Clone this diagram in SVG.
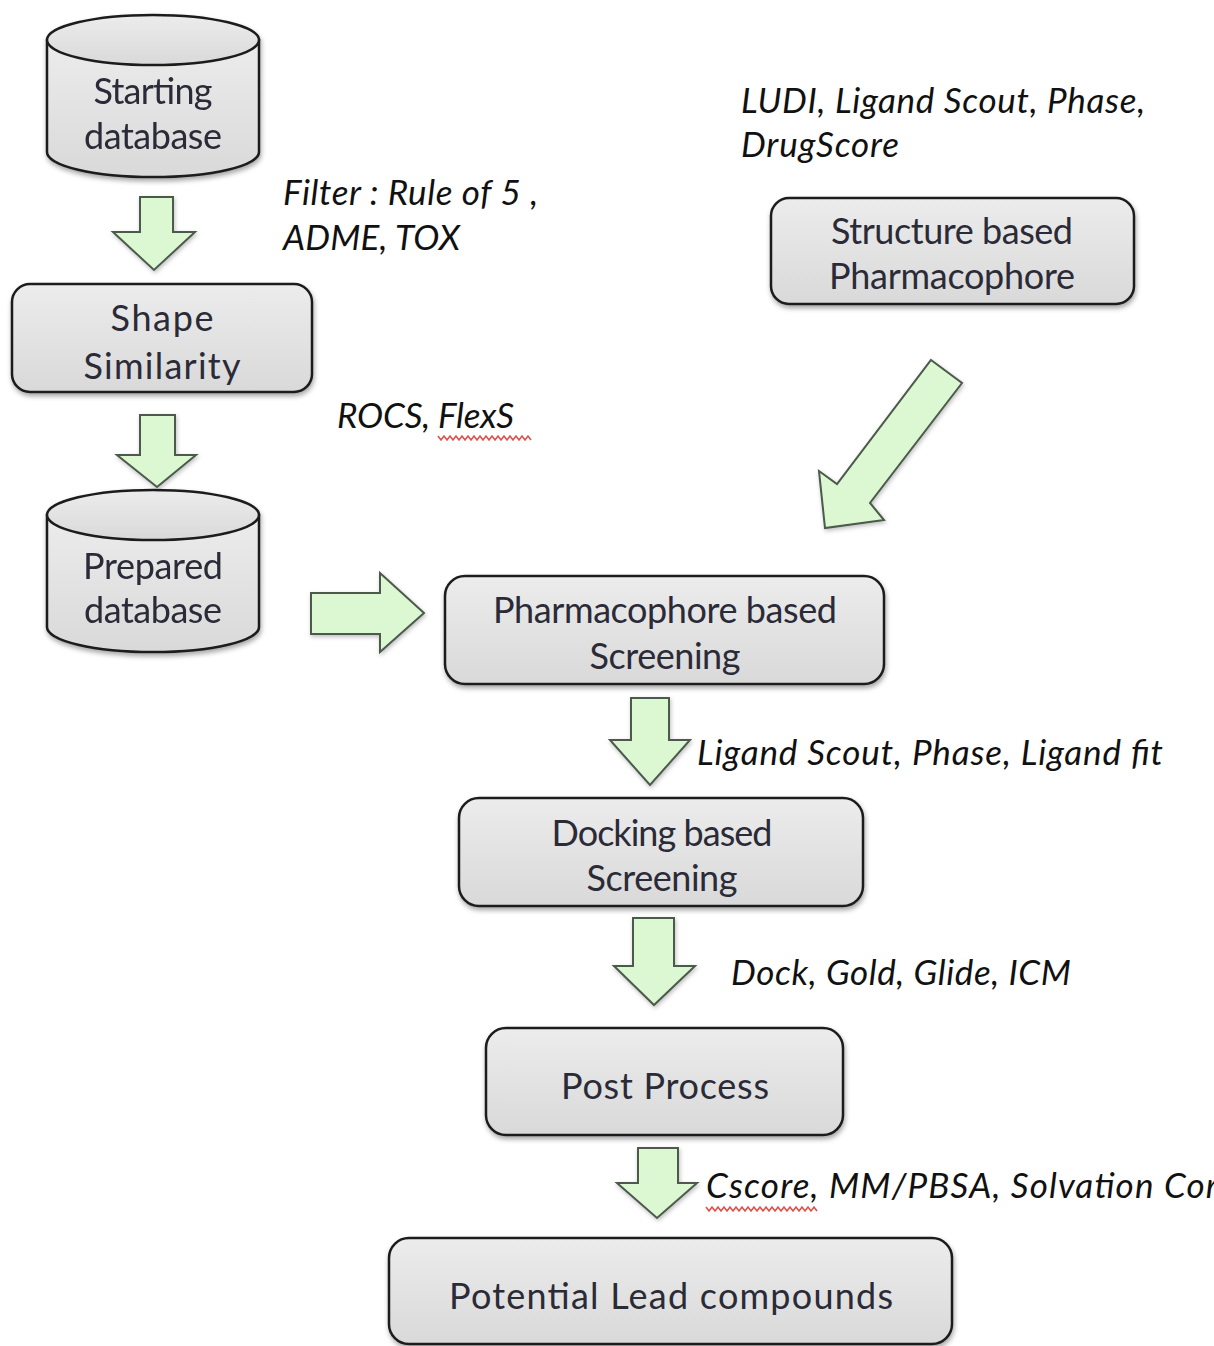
<svg xmlns="http://www.w3.org/2000/svg" width="1214" height="1346" viewBox="0 0 1214 1346">
<defs>
<linearGradient id="gbox" x1="0" y1="0" x2="0" y2="1">
<stop offset="0" stop-color="#ececec"/>
<stop offset="1" stop-color="#d9d9d9"/>
</linearGradient>
<filter id="sh" x="-10%" y="-10%" width="125%" height="135%">
<feDropShadow dx="1" dy="3" stdDeviation="2.5" flood-color="#000" flood-opacity="0.35"/>
</filter>
<filter id="sh2" x="-20%" y="-20%" width="150%" height="150%">
<feDropShadow dx="1" dy="2" stdDeviation="2" flood-color="#000" flood-opacity="0.25"/>
</filter>
</defs>
<style>
.box{fill:url(#gbox);stroke:#1c1c1c;stroke-width:2.5;filter:url(#sh)}
.cyl{fill:url(#gbox);stroke:#1c1c1c;stroke-width:2.5}
.arr{fill:#dcf8d3;stroke:#4b5a4b;stroke-width:2;stroke-linejoin:miter;filter:url(#sh2)}
.nt{font-family:Lato,"Open Sans","Liberation Sans",sans-serif;font-size:36px;fill:#2b2b38;text-anchor:middle}
.lb{font-family:Lato,"Open Sans","Liberation Sans",sans-serif;font-style:italic;font-size:35px;fill:#111}
.wavy{fill:none;stroke:#e0504a;stroke-width:1.6}
</style>
<rect width="1214" height="1346" fill="#ffffff"/>

<g id="starting-database" filter="url(#sh)">
<path class="cyl" d="M47,40 L47,152 A106,25 0 0 0 259,152 L259,40 Z"/>
<ellipse class="cyl" cx="153" cy="40" rx="106" ry="25"/>
<text class="nt" x="153" y="104" textLength="119">Starting</text>
<text class="nt" x="153" y="149" textLength="138">database</text>
</g>

<g id="shape-similarity">
<rect class="box" x="12" y="284" width="300" height="108" rx="18"/>
<text class="nt" x="162" y="331" textLength="103">Shape</text>
<text class="nt" x="162" y="379" textLength="157">Similarity</text>
</g>

<g id="prepared-database" filter="url(#sh)">
<path class="cyl" d="M47,515 L47,627 A106,25 0 0 0 259,627 L259,515 Z"/>
<ellipse class="cyl" cx="153" cy="515" rx="106" ry="25"/>
<text class="nt" x="153" y="579" textLength="140">Prepared</text>
<text class="nt" x="153" y="623" textLength="138">database</text>
</g>

<g id="structure-based-pharmacophore">
<rect class="box" x="771" y="198" width="363" height="106" rx="18"/>
<text class="nt" x="952" y="244" textLength="242">Structure based</text>
<text class="nt" x="952" y="289" textLength="246">Pharmacophore</text>
</g>

<g id="pharmacophore-based-screening">
<rect class="box" x="445" y="576" width="439" height="108" rx="20"/>
<text class="nt" x="665" y="623" textLength="344">Pharmacophore based</text>
<text class="nt" x="665" y="669" textLength="151">Screening</text>
</g>

<g id="docking-based-screening">
<rect class="box" x="459" y="798" width="404" height="108" rx="20"/>
<text class="nt" x="662" y="846" textLength="221">Docking based</text>
<text class="nt" x="662" y="891" textLength="151">Screening</text>
</g>

<g id="post-process">
<rect class="box" x="486" y="1028" width="357" height="107" rx="20"/>
<text class="nt" x="665" y="1099" textLength="208">Post Process</text>
</g>

<g id="potential-lead-compounds">
<rect class="box" x="389" y="1238" width="563" height="106" rx="20"/>
<text class="nt" x="671" y="1309" textLength="444">Potential Lead compounds</text>
</g>

<g id="connectors">
<polygon class="arr" points="140,197 173,197 173,232 195,232 154,270 113,232 140,232"/>
<polygon class="arr" points="140,415 175,415 175,455 196,455 157,487 117,455 140,455"/>
<polygon class="arr" points="311,593 380,593 380,573 424,613 380,652 380,634 311,634"/>
<polygon class="arr" points="931,360 962,383 870,503 884,520 825,528 819,471 837,484"/>
<polygon class="arr" points="631,698 669,698 669,740 690,740 650,785 610,740 631,740"/>
<polygon class="arr" points="633,918 674,918 674,966 695,966 654,1005 614,966 633,966"/>
<polygon class="arr" points="638,1148 678,1148 678,1183 697,1183 657,1218 617,1183 638,1183"/>
</g>

<g id="labels">
<text class="lb" x="741" y="113" textLength="404">LUDI, Ligand Scout, Phase,</text>
<text class="lb" x="741" y="157" textLength="158">DrugScore</text>
<text class="lb" x="283" y="205" textLength="255">Filter : Rule of 5 ,</text>
<text class="lb" x="283" y="250" textLength="177">ADME, TOX</text>
<text class="lb" x="337" y="428" textLength="177">ROCS, FlexS</text>
<path class="wavy" d="M438,436 l3,4 l3,-4 l3,4 l3,-4 l3,4 l3,-4 l3,4 l3,-4 l3,4 l3,-4 l3,4 l3,-4 l3,4 l3,-4 l3,4 l3,-4 l3,4 l3,-4 l3,4 l3,-4 l3,4 l3,-4 l3,4 l3,-4 l3,4 l3,-4 l3,4 l3,-4 l3,4 l3,-4 l3,4"/>
<text class="lb" x="697" y="765" textLength="466">Ligand Scout, Phase, Ligand fit</text>
<text class="lb" x="731" y="985" textLength="340">Dock, Gold, Glide, ICM</text>
<text class="lb" x="706" y="1198" textLength="525">Cscore, MM/PBSA, Solvation Corr</text>
<path class="wavy" d="M706,1207 l3,4 l3,-4 l3,4 l3,-4 l3,4 l3,-4 l3,4 l3,-4 l3,4 l3,-4 l3,4 l3,-4 l3,4 l3,-4 l3,4 l3,-4 l3,4 l3,-4 l3,4 l3,-4 l3,4 l3,-4 l3,4 l3,-4 l3,4 l3,-4 l3,4 l3,-4 l3,4 l3,-4 l3,4 l3,-4 l3,4 l3,-4 l3,4 l3,-4 l3,4"/>
</g>
</svg>
